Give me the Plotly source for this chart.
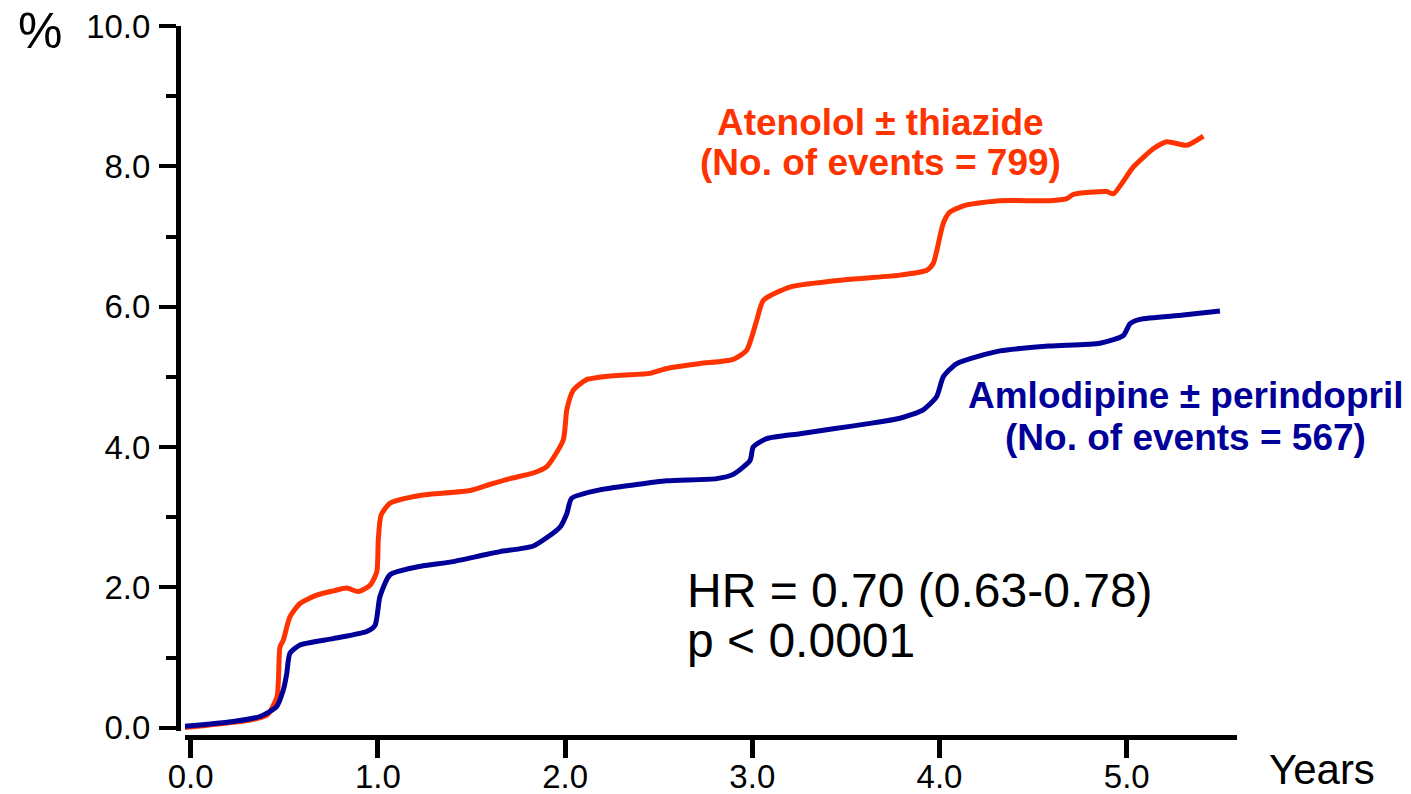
import plotly.graph_objects as go

# ---- data ----
aten_x = [-0.05, 0.10, 0.317, 0.408, 0.461, 0.477, 0.495, 0.530, 0.584, 0.673, 0.762, 0.833, 0.895,
          0.958, 0.994, 1.002, 1.017, 1.065, 1.225, 1.492, 1.600, 1.706, 1.830, 1.902, 1.990, 2.009,
          2.044, 2.115, 2.276, 2.454, 2.543, 2.721, 2.898, 2.970, 3.024, 3.059, 3.201, 3.522, 3.789,
          3.932, 3.967, 4.020, 4.056, 4.145, 4.323, 4.590, 4.679, 4.715, 4.893, 4.929, 5.035, 5.142,
          5.214, 5.321, 5.409]
aten_y = [0.00, 0.04, 0.11, 0.18, 0.44, 1.15, 1.25, 1.58, 1.77, 1.89, 1.95, 1.99, 1.94,
          2.03, 2.22, 2.67, 3.03, 3.20, 3.31, 3.38, 3.47, 3.55, 3.63, 3.72, 4.10, 4.53,
          4.81, 4.96, 5.02, 5.05, 5.12, 5.19, 5.25, 5.38, 5.81, 6.09, 6.28, 6.39, 6.45,
          6.52, 6.62, 7.19, 7.35, 7.45, 7.51, 7.51, 7.54, 7.60, 7.64, 7.61, 7.99, 8.25,
          8.35, 8.30, 8.43]

amlo_x = [-0.034, 0.228, 0.370, 0.459, 0.495, 0.513, 0.530, 0.584, 0.762, 0.940, 0.985, 1.011,
          1.065, 1.207, 1.385, 1.546, 1.652, 1.830, 1.973, 2.009, 2.035, 2.186, 2.364, 2.543,
          2.810, 2.898, 2.988, 3.005, 3.077, 3.255, 3.433, 3.611, 3.789, 3.913, 3.985, 4.020,
          4.092, 4.323, 4.590, 4.857, 4.982, 5.018, 5.071, 5.302, 5.498]
amlo_y = [0.02, 0.09, 0.16, 0.30, 0.54, 0.77, 1.06, 1.18, 1.27, 1.37, 1.46, 1.87,
          2.18, 2.29, 2.36, 2.45, 2.51, 2.59, 2.86, 3.05, 3.27, 3.39, 3.46, 3.52,
          3.55, 3.61, 3.81, 4.00, 4.12, 4.19, 4.26, 4.33, 4.41, 4.53, 4.72, 5.00,
          5.19, 5.37, 5.44, 5.48, 5.59, 5.76, 5.82, 5.88, 5.94]

x_ticks = [0, 1, 2, 3, 4, 5]
x_labels = ["0.0", "1.0", "2.0", "3.0", "4.0", "5.0"]
y_ticks = [0, 2, 4, 6, 8, 10]
y_labels = ["0.0", "2.0", "4.0", "6.0", "8.0", "10.0"]
y_minor = [1, 3, 5, 7, 9]

ORANGE = "#FF3300"
NAVY = "#000099"
FONT = "Arial, Liberation Sans, Helvetica, sans-serif"

fig = go.Figure()
fig.add_trace(go.Scatter(x=aten_x, y=aten_y, mode="lines",
                         line=dict(color=ORANGE, width=5, shape="spline", smoothing=0.6),
                         showlegend=False, hoverinfo="skip"))
fig.add_trace(go.Scatter(x=amlo_x, y=amlo_y, mode="lines",
                         line=dict(color=NAVY, width=5, shape="spline", smoothing=0.6),
                         showlegend=False, hoverinfo="skip"))

fig.update_layout(
    width=1411, height=794,
    margin=dict(l=178, r=174, t=26, b=57, autoexpand=False),
    paper_bgcolor="white", plot_bgcolor="white",
    font=dict(family=FONT, color="black"),
    xaxis=dict(range=[-0.0304, 5.589], domain=[0.0066, 1], anchor="free", position=0,
               automargin=False,
               showgrid=False, zeroline=False, showline=True, linecolor="black", linewidth=5,
               ticks="outside", ticklen=18, tickwidth=5, tickcolor="black",
               tickmode="array", tickvals=x_ticks, ticktext=x_labels, ticklabelstandoff=-10,
               tickfont=dict(size=33, family=FONT, color="black")),
    yaxis=dict(range=[-0.04, 10], domain=[0.0091, 1], anchor="free", position=0,
               automargin=False,
               showgrid=False, zeroline=False, showline=True, linecolor="black", linewidth=5,
               ticks="outside", ticklen=17, tickwidth=4, tickcolor="black",
               tickmode="array", tickvals=y_ticks, ticktext=y_labels, ticklabelstandoff=2,
               tickfont=dict(size=33, family=FONT, color="black"),
               minor=dict(tickmode="array", tickvals=y_minor, ticks="outside",
                          ticklen=10, tickwidth=4, tickcolor="black")),
)

ann = []
ann.append(dict(text="%", xref="paper", yref="paper", x=-0.130, y=0.993, xanchor="center",
                yanchor="middle", showarrow=False, font=dict(size=50, family=FONT, color="black")))
ann.append(dict(text="Years", xref="paper", yref="paper", x=1.08, y=-0.0802, xanchor="center",
                yanchor="bottom", showarrow=False, borderpad=0,
                font=dict(size=42, family=FONT, color="black")))
ann.append(dict(text="HR = 0.70 (0.63-0.78)", x=2.640, y=1.96, xanchor="left", yanchor="middle",
                showarrow=False, font=dict(size=48, family=FONT, color="black")))
ann.append(dict(text="p < 0.0001", x=2.640, y=1.25, xanchor="left", yanchor="middle",
                showarrow=False, font=dict(size=48, family=FONT, color="black")))
ann.append(dict(text="<b>Atenolol ± thiazide</b>", x=3.684, y=8.63, xanchor="center", yanchor="middle",
                showarrow=False, font=dict(size=37, family=FONT, color=ORANGE)))
ann.append(dict(text="<b>(No. of events = 799)</b>", x=3.684, y=8.05, xanchor="center", yanchor="middle",
                showarrow=False, font=dict(size=37, family=FONT, color=ORANGE)))
ann.append(dict(text="<b>Amlodipine ± perindopril</b>", x=5.314, y=4.74, xanchor="center", yanchor="middle",
                showarrow=False, font=dict(size=37, family=FONT, color=NAVY)))
ann.append(dict(text="<b>(No. of events = 567)</b>", x=5.314, y=4.14, xanchor="center", yanchor="middle",
                showarrow=False, font=dict(size=37, family=FONT, color=NAVY)))
fig.update_layout(annotations=ann)

fig.write_html("out.html")
